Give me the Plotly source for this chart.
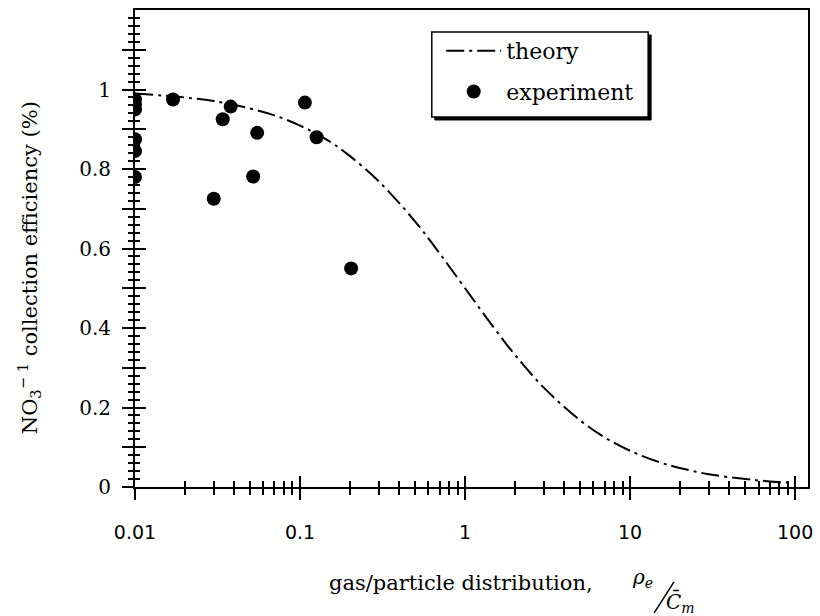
import plotly.graph_objects as go

# Theory curve, sampled along the plotted line
theory_x = [0.01, 0.02, 0.03, 0.05, 0.07, 0.1, 0.15, 0.2, 0.3, 0.5, 0.7, 1.0,
            1.5, 2.0, 3.0, 5.0, 7.0, 10.0, 15.0, 20.0, 30.0, 50.0, 70.0, 100.0]
theory_y = [0.99, 0.98, 0.971, 0.952, 0.935, 0.909, 0.87, 0.833, 0.769, 0.667,
            0.588, 0.5, 0.4, 0.333, 0.25, 0.167, 0.125, 0.091, 0.0625, 0.048,
            0.032, 0.02, 0.014, 0.01]

# Measured collection efficiencies
exp_x = [0.01, 0.01, 0.01, 0.01, 0.01, 0.01, 0.017, 0.030, 0.034, 0.038,
         0.052, 0.055, 0.107, 0.126, 0.204]
exp_y = [0.975, 0.962, 0.95, 0.875, 0.845, 0.78, 0.975, 0.725, 0.925, 0.957,
         0.781, 0.891, 0.967, 0.88, 0.55]

# Tick positions and labels
x_major = [0.01, 0.1, 1, 10, 100]
x_major_text = ["0.01", "0.1", "1", "10", "100"]
x_minor = [m * 10.0 ** e for e in range(-2, 2) for m in range(2, 10)]
y_major = [0, 0.1, 0.2, 0.3, 0.4, 0.5, 0.6, 0.7, 0.8, 0.9, 1.0, 1.1]
y_major_text = ["0", "", "0.2", "", "0.4", "", "0.6", "", "0.8", "", "1", ""]
y_minor = [round(0.02 * i, 2) for i in range(1, 60) if i % 5 != 0]

X_RANGE = [-2, 2.078]
Y_RANGE = [0, 1.2]
SERIF = "DejaVu Serif"
SANS = "DejaVu Sans"

fig = go.Figure()
fig.add_trace(go.Scatter(
    x=theory_x, y=theory_y, mode="lines", name="theory",
    line=dict(color="black", width=2, dash="18px,5px,3px,5px", shape="spline"),
    legendgroup="a",
))
fig.add_trace(go.Scatter(
    x=exp_x, y=exp_y, mode="markers", name="experiment",
    marker=dict(color="black", size=14),
    legendgroup="b",
))
# empty traces so the inward-tick axes get drawn
for xa, ya in (("x2", "y"), ("x", "y2")):
    fig.add_trace(go.Scatter(x=[], y=[], xaxis=xa, yaxis=ya,
                             showlegend=False, hoverinfo="skip"))

base_x = dict(type="log", range=X_RANGE, showgrid=False, zeroline=False,
              tickmode="array", tickvals=x_major, tickcolor="black")
base_y = dict(range=Y_RANGE, showgrid=False, zeroline=False,
              tickmode="array", tickvals=y_major, tickcolor="black")

fig.update_layout(
    width=820, height=616,
    margin=dict(l=135, r=7, t=10, b=129),
    paper_bgcolor="white", plot_bgcolor="white",
    showlegend=True,
    xaxis=dict(base_x, showline=True, linecolor="black", linewidth=2, mirror=True,
               ticktext=x_major_text, ticks="outside", ticklen=11, tickwidth=2,
               minor=dict(tickmode="array", tickvals=x_minor, ticks="outside",
                          ticklen=6, tickwidth=1.5, tickcolor="black"),
               ticklabelstandoff=16,
               tickfont=dict(family=SANS, size=19, color="black")),
    xaxis2=dict(base_x, overlaying="x", anchor="y", side="bottom",
                ticks="inside", ticklen=11, tickwidth=2, showticklabels=False,
                showline=False,
                minor=dict(tickmode="array", tickvals=x_minor, ticks="inside",
                           ticklen=6, tickwidth=1.5, tickcolor="black")),
    yaxis=dict(base_y, showline=True, linecolor="black", linewidth=2, mirror=True,
               ticktext=y_major_text, ticks="outside", ticklen=11, tickwidth=2,
               minor=dict(tickmode="array", tickvals=y_minor, ticks="outside",
                          ticklen=5, tickwidth=1.5, tickcolor="black"),
               ticklabelstandoff=7,
               tickfont=dict(family=SERIF, size=20, color="black")),
    yaxis2=dict(base_y, overlaying="y", anchor="x", side="left",
                ticks="inside", ticklen=11, tickwidth=2, showticklabels=False,
                showline=False,
                minor=dict(tickmode="array", tickvals=y_minor, ticks="inside",
                           ticklen=5, tickwidth=1.5, tickcolor="black")),
)

# legend frame with a drop shadow
lx0, lx1, ly0, ly1 = 0.441, 0.7625, 0.7757, 0.9539
dx, dy = 3 / 678, 3 / 477
fig.add_shape(type="rect", xref="paper", yref="paper",
              x0=lx0 + dx, x1=lx1 + dx, y0=ly0 - dy, y1=ly1 - dy,
              fillcolor="black", line=dict(color="black", width=1), layer="above")
fig.add_shape(type="rect", xref="paper", yref="paper",
              x0=lx0, x1=lx1, y0=ly0, y1=ly1,
              fillcolor="white", line=dict(color="black", width=1.5), layer="above")

fig.update_layout(legend=dict(
    x=0.455, y=0.958, xanchor="left", yanchor="top",
    bgcolor="rgba(0,0,0,0)", borderwidth=0,
    font=dict(family=SERIF, size=22, color="black"),
    itemwidth=55, tracegroupgap=9, traceorder="grouped",
))

# axis titles
fig.add_annotation(
    text="NO<sub>3</sub><sup>\u2212 1</sup> collection efficiency (%)",
    xref="paper", yref="paper", x=-0.158, y=0.46, textangle=-90,
    showarrow=False, xanchor="center", yanchor="middle",
    font=dict(family=SERIF, size=21, color="black"),
)
fig.add_annotation(
    text="gas/particle distribution,",
    xref="paper", yref="paper", x=0.485, y=-0.201,
    showarrow=False, xanchor="center", yanchor="middle",
    font=dict(family=SERIF, size=21, color="black"),
)
fig.add_annotation(
    text="<i>\u03c1<sub>e</sub></i>",
    xref="paper", yref="paper", x=0.7545, y=-0.19,
    showarrow=False, xanchor="center", yanchor="middle",
    font=dict(family=SERIF, size=20, color="black"),
)
fig.add_annotation(
    text="<i>C\u0304<sub>m</sub></i>",
    xref="paper", yref="paper", x=0.8105, y=-0.243,
    showarrow=False, xanchor="center", yanchor="middle",
    font=dict(family=SERIF, size=20, color="black"),
)
fig.add_shape(type="line", xref="paper", yref="paper",
              x0=0.7714, y0=-0.264, x1=0.8009, y1=-0.199,
              line=dict(color="black", width=1.5))

fig.write_html("out.html")
